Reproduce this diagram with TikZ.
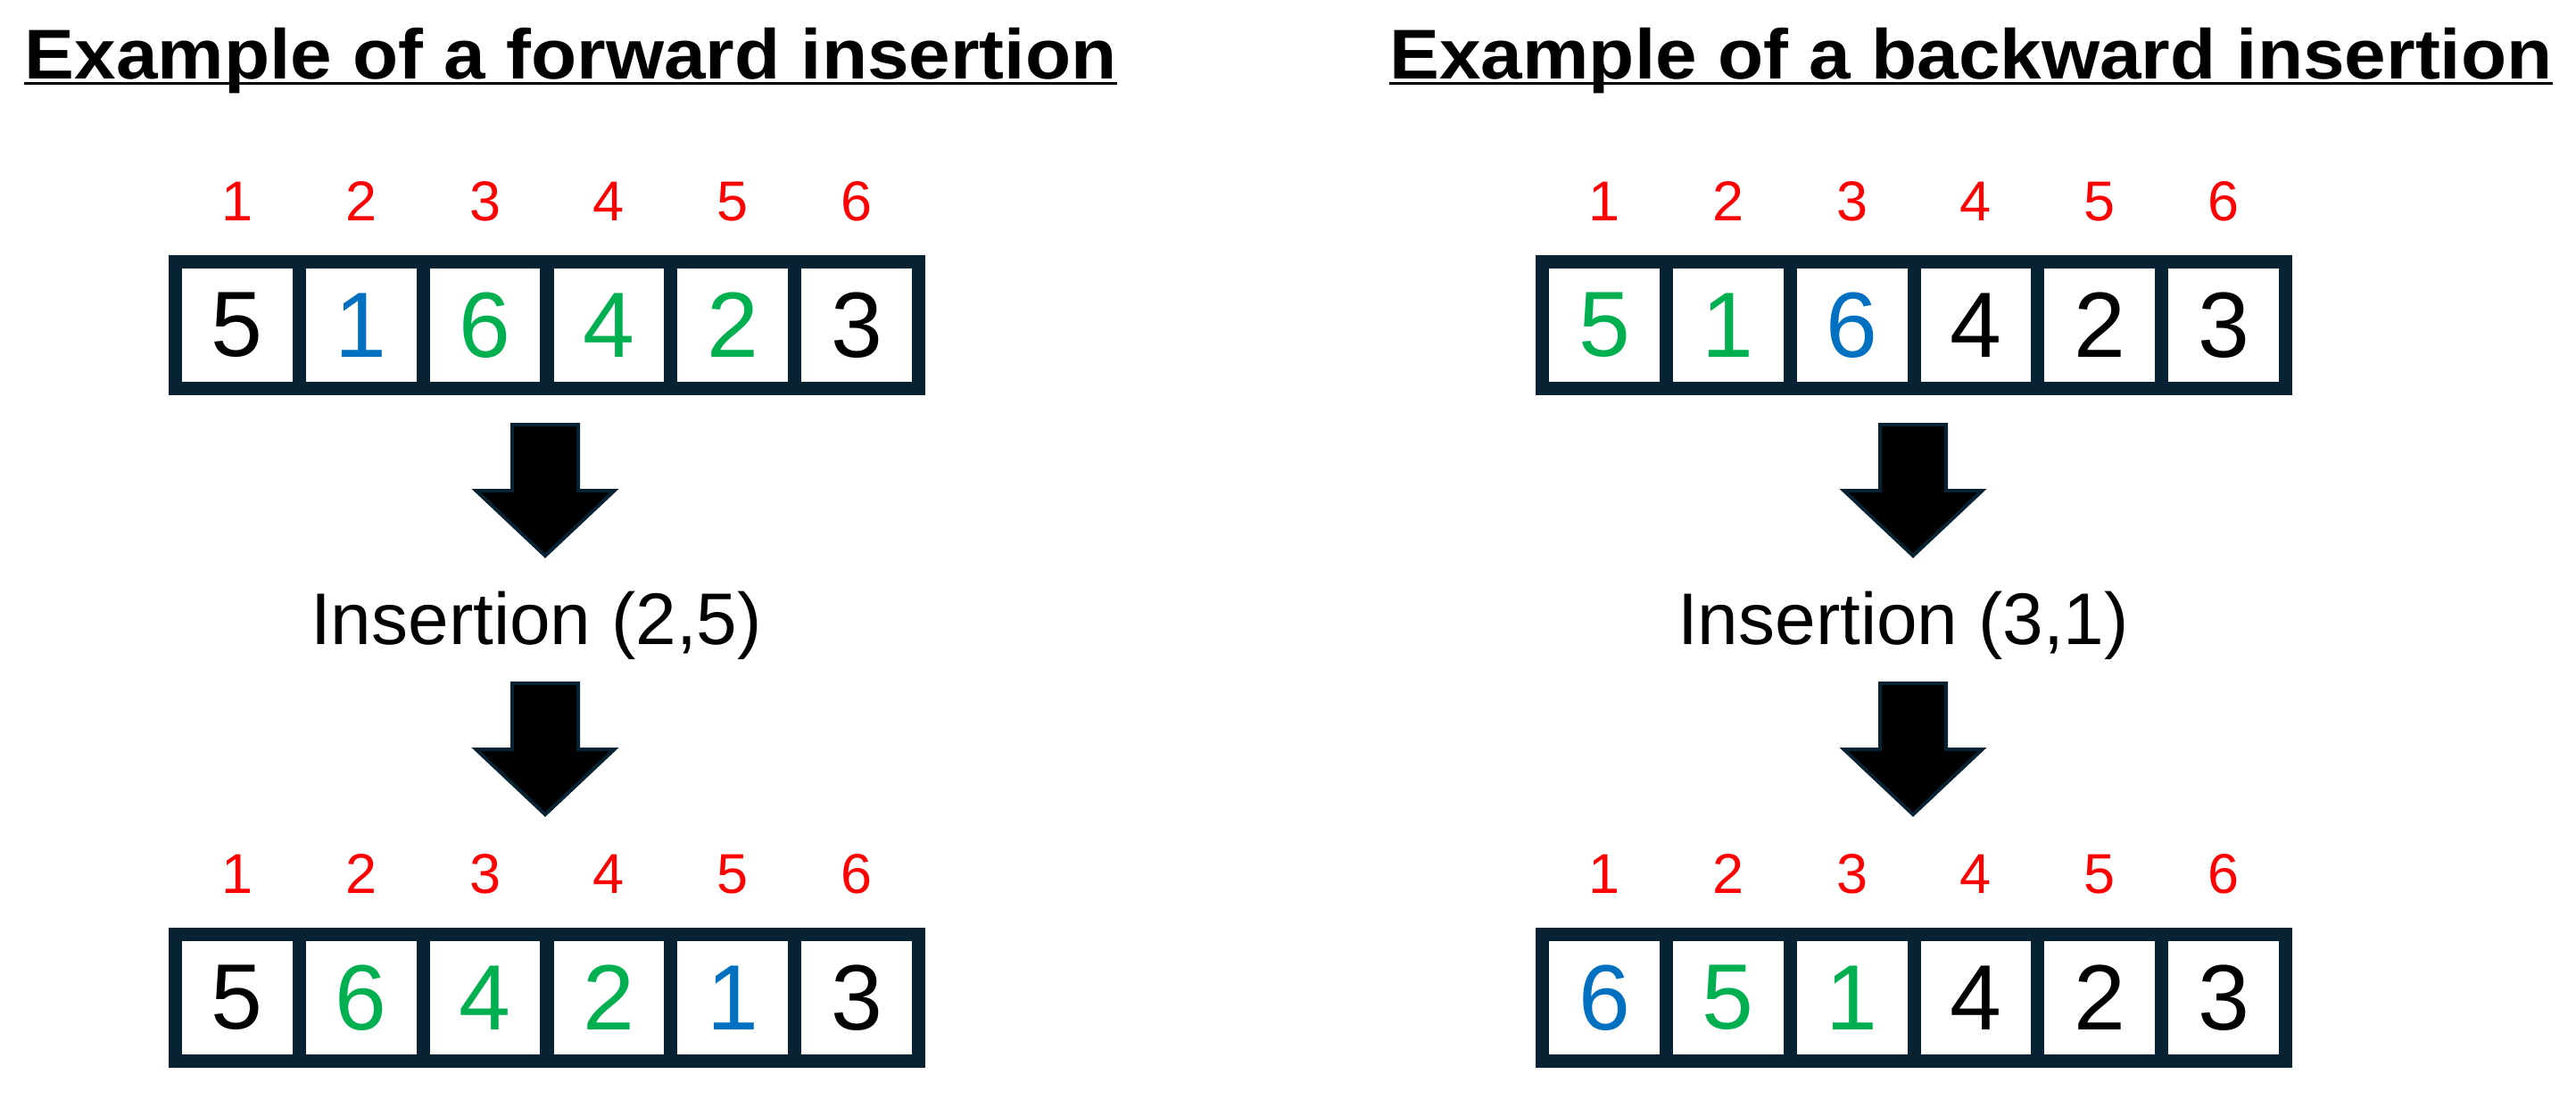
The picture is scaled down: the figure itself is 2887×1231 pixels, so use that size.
\documentclass[tikz,border=0pt]{standalone}
\usepackage{fontspec}
\setmainfont{Liberation Sans}
\newfontfamily\titlefont{Liberation Sans}[FakeStretch=1.06]
\definecolor{frame}{RGB}{6,34,51}
\definecolor{grn}{RGB}{0,176,80}
\definecolor{blu}{RGB}{0,112,192}
\definecolor{rd}{RGB}{255,0,0}
\tikzset{
  cellbox/.style={draw=frame, line width=3.75pt, minimum width=34.71pt, minimum height=35.5pt, inner sep=0pt, font=\fontsize{26pt}{30pt}\selectfont},
  idx/.style={text=rd, inner sep=0pt, anchor=base, font=\fontsize{15.75pt}{18pt}\selectfont},
  titlestyle/.style={inner sep=0pt, anchor=base, font=\titlefont\bfseries\fontsize{19.75pt}{24pt}\selectfont},
  undl/.style={line width=0.875pt, draw=black},
  oplabel/.style={inner sep=0pt, anchor=base, font=\fontsize{20.5pt}{24pt}\selectfont},
  blockarrow/.pic={\filldraw[fill=black, draw=frame, line width=1pt, miter limit=10]
     (-37,0) -- (37,0) -- (37,74) -- (77.5,74) -- (0,147) -- (-77.5,74) -- (-37,74) -- cycle;}
}
\begin{document}
\begin{tikzpicture}[x=0.25pt, y=-0.25pt]
\useasboundingbox[fill=white] (0,0) rectangle (2887,1231);

% ---------- titles ----------
\node[titlestyle] (titleL) at (639.5,88.3) {Example of a forward insertion};
\draw[undl] ([yshift=-1.35pt]titleL.base west) -- ([yshift=-1.35pt]titleL.base east);
\node[titlestyle] (titleR) at (2209,88.3) {Example of a backward insertion};
\draw[undl] ([yshift=-1.35pt]titleR.base west) -- ([yshift=-1.35pt]titleR.base east);

% ---------- left: forward insertion ----------
\foreach \v/\c [count=\i] in {5/black,1/blu,6/grn,4/grn,2/grn,3/black}{
  \node[idx] (ntl\i) at ({196.5+138.83*(\i-0.5)},247) {\i};
  \node[cellbox, text=\c] (tl\i) at ({196.5+138.83*(\i-0.5)},364.5) {\v};
}
\pic at (611,476) {blockarrow};
\node[oplabel] (opL) at (601,722) {Insertion (2,5)};
\pic at (611,766) {blockarrow};
\foreach \v/\c [count=\i] in {5/black,6/grn,4/grn,2/grn,1/blu,3/black}{
  \node[idx] (nbl\i) at ({196.5+138.83*(\i-0.5)},1001) {\i};
  \node[cellbox, text=\c] (bl\i) at ({196.5+138.83*(\i-0.5)},1118.5) {\v};
}

% ---------- right: backward insertion ----------
\foreach \v/\c [count=\i] in {5/grn,1/grn,6/blu,4/black,2/black,3/black}{
  \node[idx] (ntr\i) at ({1728.5+138.83*(\i-0.5)},247) {\i};
  \node[cellbox, text=\c] (tr\i) at ({1728.5+138.83*(\i-0.5)},364.5) {\v};
}
\pic at (2144,476) {blockarrow};
\node[oplabel] (opR) at (2133,722) {Insertion (3,1)};
\pic at (2144,766) {blockarrow};
\foreach \v/\c [count=\i] in {6/blu,5/grn,1/grn,4/black,2/black,3/black}{
  \node[idx] (nbr\i) at ({1728.5+138.83*(\i-0.5)},1001) {\i};
  \node[cellbox, text=\c] (br\i) at ({1728.5+138.83*(\i-0.5)},1118.5) {\v};
}
\end{tikzpicture}
\end{document}
